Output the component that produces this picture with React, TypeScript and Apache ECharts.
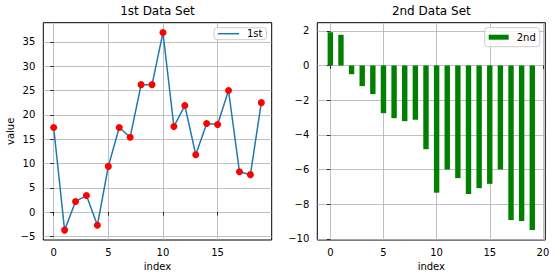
import React, { useEffect, useRef } from "react";
import * as echarts from "echarts";

// ---- data ----
const index1: number[] = [0, 1, 2, 3, 4, 5, 6, 7, 8, 9, 10, 11, 12, 13, 14, 15, 16, 17, 18, 19];
const values1: number[] = [17.4, -3.7, 2.2, 3.4, -2.7, 9.4, 17.4, 15.4, 26.2, 26.2, 36.9, 17.6, 21.9, 11.8, 18.2, 18.0, 25.0, 8.3, 7.7, 22.5];
const values2: number[] = [1.92, 1.77, -0.5, -1.19, -1.65, -2.75, -3.04, -3.21, -3.13, -4.83, -7.34, -6.0, -6.5, -7.42, -7.08, -6.83, -6.0, -8.92, -8.98, -9.5];
const xTicks1: number[] = [0, 5, 10, 15];
const yTicks1: number[] = [-5, 0, 5, 10, 15, 20, 25, 30, 35];
const xTicks2: number[] = [0, 5, 10, 15, 20];
const yTicks2: number[] = [-10, -8, -6, -4, -2, 0, 2];
const titles: string[] = ["1st Data Set", "2nd Data Set"];
const seriesNames: string[] = ["1st", "2nd"];
const xName = "index";
const yName = "value";

const FONT = "DejaVu Sans";
const minus = (v: number) => String(v).replace("-", "\u2212");

export default function App() {
  const ref = useRef<HTMLDivElement>(null);
  useEffect(() => {
    if (!ref.current) return;
    const chart = echarts.init(ref.current, undefined, { renderer: "svg" });
    const gridCommon = {
      show: true,
      borderColor: "#000",
      borderWidth: 1,
      backgroundColor: "#fff",
      top: 22.7,
      bottom: 38,
    };
    const axisCommon = (ticks: number[]) => ({
      type: "value" as const,
      axisLine: { show: false },
      axisTick: { show: true, length: 3.5, lineStyle: { color: "#000", width: 0.8 }, customValues: ticks },
      axisLabel: {
        customValues: ticks,
        color: "#000",
        fontSize: 10,
        fontFamily: FONT,
        formatter: (v: number) => minus(v),
      },
      splitLine: { show: true, lineStyle: { color: "#b0b0b0", width: 0.8 } },
      nameTextStyle: { color: "#000", fontSize: 10, fontFamily: FONT },
    });
    const legendCommon = {
      orient: "vertical" as const,
      borderColor: "#cccccc",
      borderWidth: 1,
      borderRadius: 3,
      backgroundColor: "rgba(255,255,255,0.8)",
      padding: [1, 4, 1, 4],
      itemWidth: 21,
      itemHeight: 12,
      textStyle: { color: "#000", fontSize: 10, fontFamily: FONT, padding: [0, 0, 0, 3] },
    };
    chart.setOption({
      animation: false,
      backgroundColor: "#fff",
      textStyle: { fontFamily: FONT },
      title: [
        {
          text: titles[0],
          left: 157.5,
          top: 5,
          padding: 0,
          textAlign: "center",
          textStyle: { fontSize: 12, fontWeight: "normal", color: "#000", fontFamily: FONT },
        },
        {
          text: titles[1],
          left: 431.3,
          top: 5,
          padding: 0,
          textAlign: "center",
          textStyle: { fontSize: 12, fontWeight: "normal", color: "#000", fontFamily: FONT },
        },
      ],
      legend: [
        {
          ...legendCommon,
          data: [{ name: seriesNames[0], icon: "path://M0,5L21,5L21,6.5L0,6.5Z" }],
          left: 214,
          top: 27.7,
        },
        {
          ...legendCommon,
          data: [{ name: seriesNames[1], icon: "rect" }],
          itemHeight: 5,
          itemWidth: 20,
          padding: [4.5, 4, 4.5, 4],
          left: 484.7,
          top: 27.7,
        },
      ],
      grid: [
        { ...gridCommon, left: 43.3, right: 284.3 },
        { ...gridCommon, left: 317.3, right: 10.7 },
      ],
      xAxis: [
        {
          ...axisCommon(xTicks1),
          gridIndex: 0,
          min: -0.95,
          max: 19.95,
          name: xName,
          nameLocation: "middle",
          nameGap: 20,
          axisLabel: { ...axisCommon(xTicks1).axisLabel, margin: 7 },
        },
        {
          ...axisCommon(xTicks2),
          gridIndex: 1,
          min: -1.225,
          max: 20.225,
          name: xName,
          nameLocation: "middle",
          nameGap: 20,
          axisLabel: { ...axisCommon(xTicks2).axisLabel, margin: 7 },
        },
      ],
      yAxis: [
        {
          ...axisCommon(yTicks1),
          gridIndex: 0,
          min: -5.73,
          max: 38.93,
          name: yName,
          nameLocation: "middle",
          nameGap: 28,
          axisLabel: { ...axisCommon(yTicks1).axisLabel, margin: 8 },
        },
        {
          ...axisCommon(yTicks2),
          gridIndex: 1,
          min: -10.07,
          max: 2.47,
          axisLabel: { ...axisCommon(yTicks2).axisLabel, margin: 8 },
        },
      ],
      series: [
        {
          name: seriesNames[0],
          type: "line",
          xAxisIndex: 0,
          yAxisIndex: 0,
          data: index1.map((x, i) => [x, values1[i]]),
          symbol: "none",
          lineStyle: { color: "#1f77b4", width: 1.5 },
          itemStyle: { color: "#1f77b4" },
          z: 3,
        },
        {
          name: "markers",
          type: "scatter",
          xAxisIndex: 0,
          yAxisIndex: 0,
          data: index1.map((x, i) => [x, values1[i]]),
          symbol: "circle",
          symbolSize: 7,
          itemStyle: { color: "#ff0000", opacity: 1 },
          z: 4,
        },
        {
          name: seriesNames[1],
          type: "bar",
          xAxisIndex: 1,
          yAxisIndex: 1,
          data: index1.map((x, i) => [x, values2[i]]),
          barWidth: 5.4,
          itemStyle: { color: "#008000" },
          z: 3,
        },
      ],
    });
    return () => chart.dispose();
  }, []);
  return (
    <div
      ref={ref}
      style={{ position: "fixed", left: 0, top: 0, width: 556, height: 278 }}
    />
  );
}
